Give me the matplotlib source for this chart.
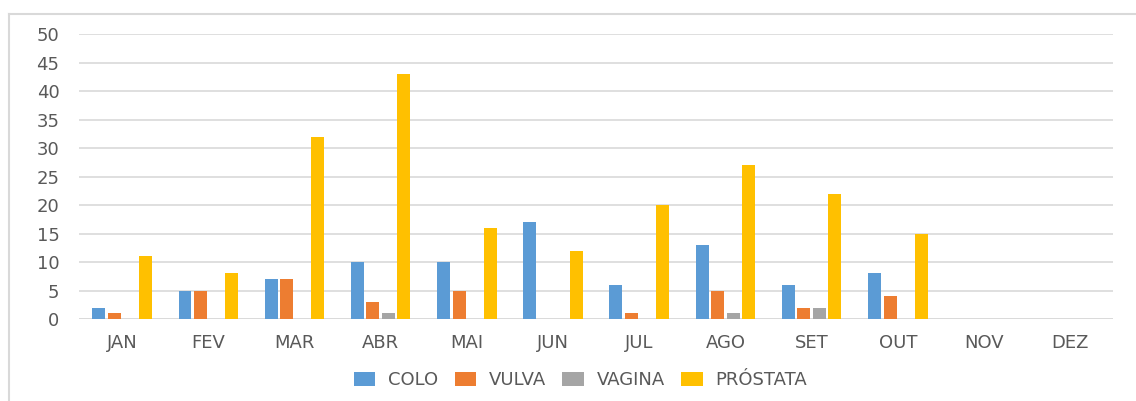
import numpy as np
import matplotlib.pyplot as plt
from matplotlib.lines import Line2D

months = ['JAN', 'FEV', 'MAR', 'ABR', 'MAI', 'JUN', 'JUL', 'AGO', 'SET', 'OUT', 'NOV', 'DEZ']
colo = [2, 5, 7, 10, 10, 17, 6, 13, 6, 8, 0, 0]
vulva = [1, 5, 7, 3, 5, 0, 1, 5, 2, 4, 0, 0]
vagina = [0, 0, 0, 1, 0, 0, 0, 1, 2, 0, 0, 0]
prostata = [11, 8, 32, 43, 16, 12, 20, 27, 22, 15, 0, 0]

series = [('COLO', colo, '#5B9BD5'),
          ('VULVA', vulva, '#ED7D31'),
          ('VAGINA', vagina, '#A5A5A5'),
          ('PRÓSTATA', prostata, '#FFC000')]

plt.rcParams['font.family'] = ['DejaVu Sans']
txt = '#595959'

fig = plt.figure(figsize=(11.36, 4.01), dpi=100)
ax = fig.add_axes([0.0695, 0.2045, 0.9105, 0.7105])

x = np.arange(len(months))
w = 0.15
step = 0.18
for i, (name, vals, col) in enumerate(series):
    ax.bar(x + (i - 1.5) * step, vals, width=w, color=col, label=name, zorder=3)

ax.set_xlim(-0.5, len(months) - 0.5)
ax.set_ylim(0, 50)
ax.set_yticks(range(0, 51, 5))
ax.set_xticks(x)
ax.set_xticklabels(months)
ax.grid(axis='y', color='#d9d9d9', linewidth=1.2, zorder=0)
for s in ax.spines.values():
    s.set_visible(False)
ax.axhline(0, color='#d9d9d9', linewidth=1.2, zorder=2)
ax.tick_params(length=0, colors=txt, labelsize=13)
ax.tick_params(axis='x', pad=11)
ax.tick_params(axis='y', pad=14)

ax.legend(loc='center', bbox_to_anchor=(0.511, 0.052), bbox_transform=fig.transFigure,
          ncol=4, frameon=False, fontsize=13, labelcolor=txt,
          handlelength=1.2, handleheight=0.8, handletextpad=0.7, columnspacing=0.9)

# chart border (left and top edges visible)
fig.add_artist(Line2D([8.5 / 1136, 8.5 / 1136], [0, 1 - 13.5 / 401], transform=fig.transFigure,
                      color='#d9d9d9', linewidth=1.5))
fig.add_artist(Line2D([8.5 / 1136, 1], [1 - 13.5 / 401, 1 - 13.5 / 401], transform=fig.transFigure,
                      color='#d9d9d9', linewidth=1.5))

fig.savefig('out.png', dpi=100)
